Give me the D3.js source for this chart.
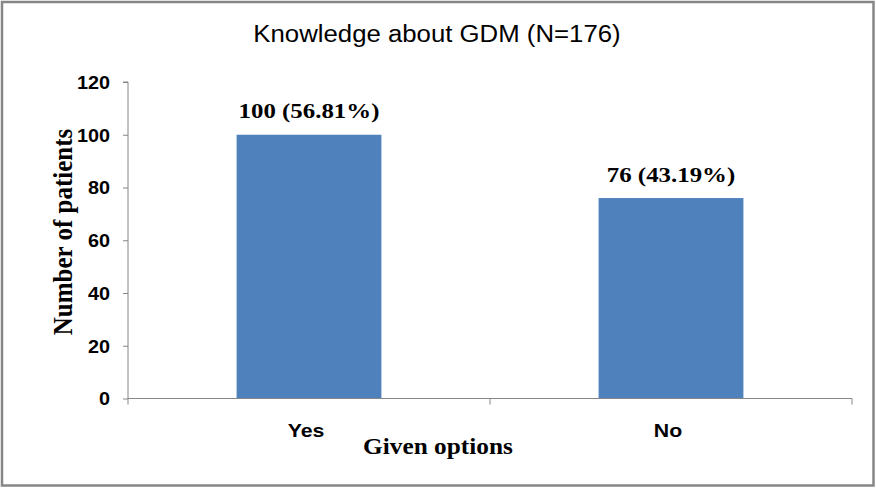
<!DOCTYPE html>
<html><head><meta charset="utf-8">
<script src="https://cdn.jsdelivr.net/npm/d3@7"></script>
<style>body{margin:0;background:#fff}svg{display:block}</style>
</head><body>
<script>
const categories = ["Yes", "No"];
const values = [100, 76];
const valueLabels = ["100 (56.81%)", "76 (43.19%)"];
const yTicks = [0, 20, 40, 60, 80, 100, 120];
const title = "Knowledge about GDM (N=176)";
const xTitle = "Given options";
const yTitle = "Number of patients";

(function () {
const W = 876, H = 489;
const SANS = "Liberation Sans, Arial, sans-serif";
const SERIF = "Liberation Serif, Times New Roman, serif";
function stretch(sel, k) {
  sel.each(function () {
    const w = this.getComputedTextLength();
    this.setAttribute("textLength", w * k);
    this.setAttribute("lengthAdjust", "spacingAndGlyphs");
  });
}
const svg = d3.select("body").append("svg").attr("width", W).attr("height", H);
svg.append("rect").attr("x", 2).attr("y", 2).attr("width", W - 4.5).attr("height", H - 5.5)
  .attr("fill", "#fff").attr("stroke", "#868686").attr("stroke-width", 2.5);

const pl = 128, pr = 852, pt = 82, pb = 398.5;
const x = d3.scaleBand().domain(categories).range([pl, pr]).paddingInner(0.6).paddingOuter(0.3);
const y = d3.scaleLinear().domain([0, 120]).range([pb, pt]);

svg.append("text").attr("x", 437).attr("y", 42).attr("text-anchor", "middle")
  .attr("font-family", SANS).attr("font-size", 23).text(title).call(stretch, 1.12);

svg.selectAll("rect.bar").data(values).enter().append("rect").attr("class", "bar")
  .attr("x", (d, i) => x(categories[i])).attr("width", x.bandwidth())
  .attr("y", d => y(d)).attr("height", d => y(0) - y(d)).attr("fill", "#4F81BD");

svg.selectAll("text.vl").data(values).enter().append("text").attr("class", "vl")
  .attr("x", (d, i) => x(categories[i]) + x.bandwidth() / 2).attr("y", d => y(d) - 16.5)
  .attr("text-anchor", "middle").attr("font-family", SERIF)
  .attr("font-weight", "bold").attr("font-size", 22).text((d, i) => valueLabels[i]).call(stretch, 1.13);

const ya = d3.axisLeft(y).tickValues(yTicks).tickSize(5).tickPadding(6);
const yg = svg.append("g").attr("transform", `translate(${pl},0)`).call(ya);
yg.selectAll("path,line").attr("stroke", "#868686");
yg.select(".domain").attr("d", `M-5,${pt}H0V${pb}`);
yg.selectAll("text").attr("x", -18).attr("font-family", SANS).attr("font-weight", "bold")
  .attr("font-size", 18).attr("fill", "#000").attr("dy", "0.35em").call(stretch, 1.1);

const xg = svg.append("g");
xg.append("line").attr("x1", pl).attr("x2", pr).attr("y1", pb).attr("y2", pb).attr("stroke", "#868686");
const bounds = [pl, (x("Yes") + x.bandwidth() + x("No")) / 2, pr];
xg.selectAll("line.t").data(bounds).enter().append("line").attr("class", "t")
  .attr("x1", d => d).attr("x2", d => d).attr("y1", pb).attr("y2", pb + 6).attr("stroke", "#868686");
xg.selectAll("text").data(categories).enter().append("text")
  .attr("x", d => x(d) + x.bandwidth() / 2 - 3).attr("y", 437).attr("text-anchor", "middle")
  .attr("font-family", SANS).attr("font-size", 19).attr("font-weight", "bold")
  .text(d => d).call(stretch, 1.12);

svg.append("text").attr("x", 438).attr("y", 454).attr("text-anchor", "middle")
  .attr("font-family", SERIF).attr("font-weight", "bold")
  .attr("font-size", 23).text(xTitle).call(stretch, 1.1);

svg.append("text").attr("transform", "translate(72,232) scale(1.12,1) rotate(-90)").attr("text-anchor", "middle")
  .attr("font-family", SERIF).attr("font-weight", "bold")
  .attr("font-size", 25).text(yTitle);
})();
</script>
</body></html>
